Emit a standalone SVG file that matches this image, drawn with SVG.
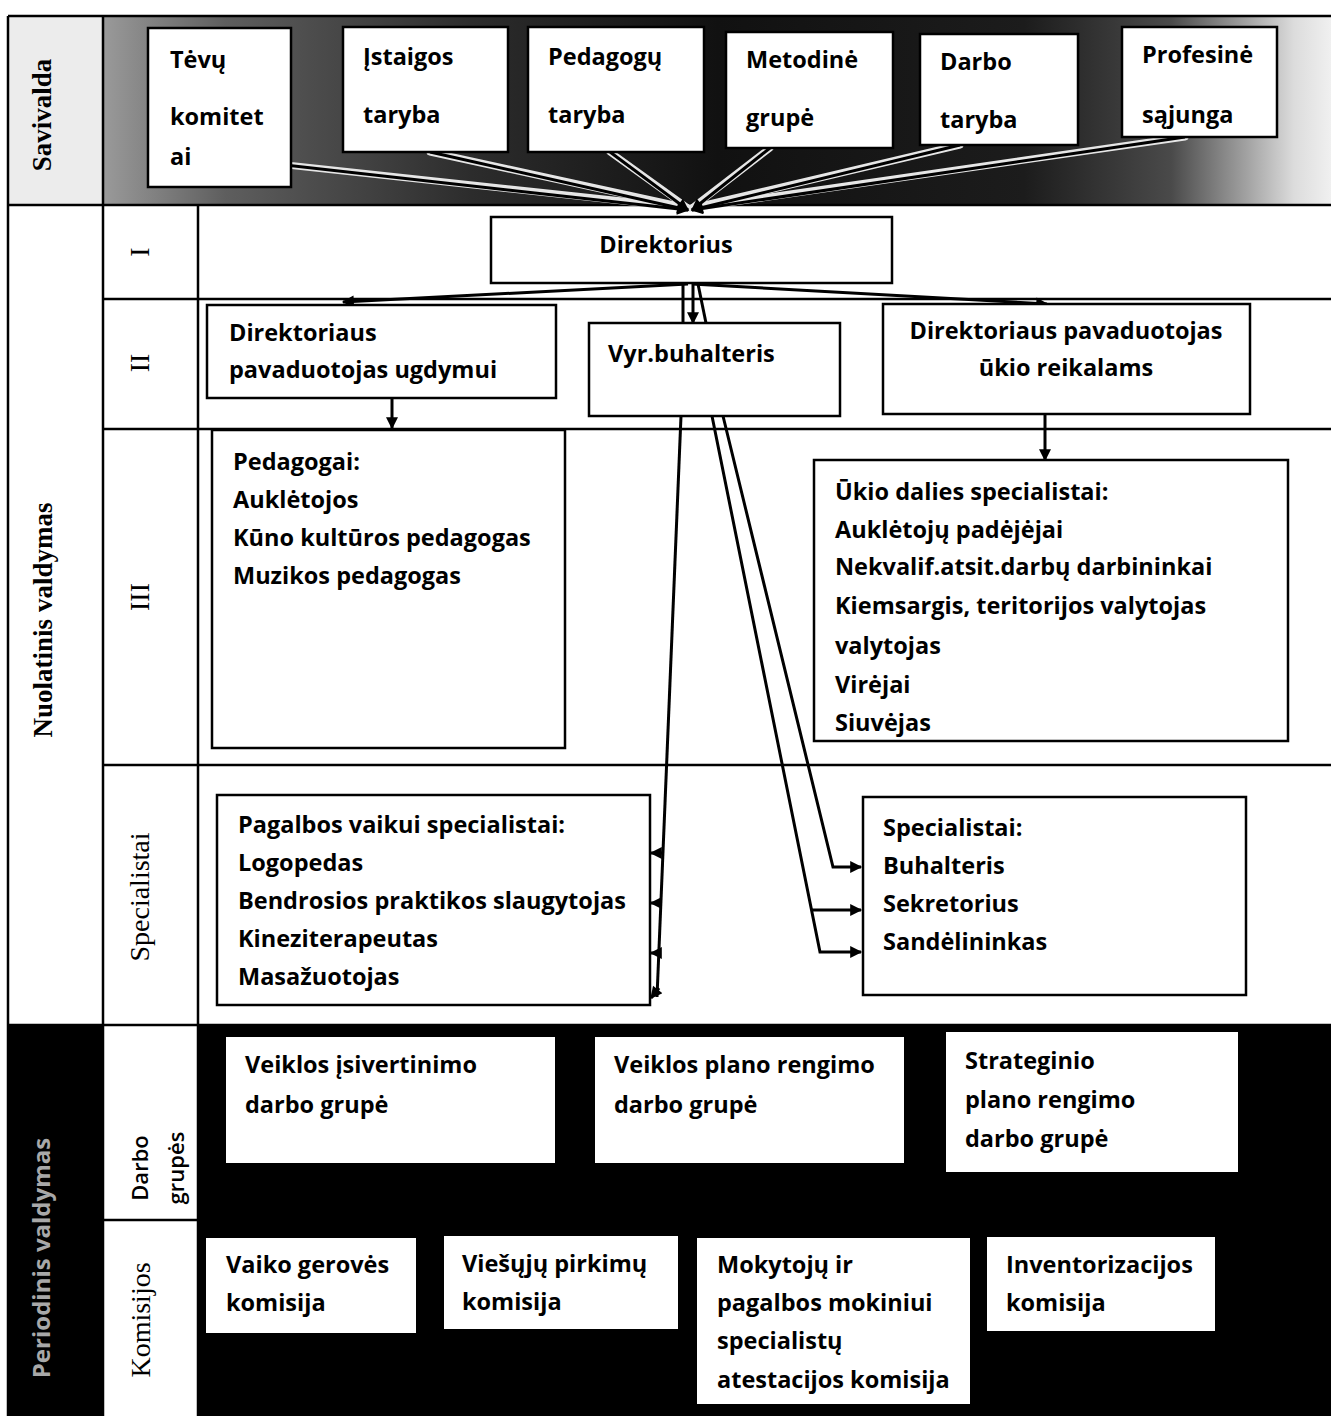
<svg xmlns="http://www.w3.org/2000/svg" width="1331" height="1416" viewBox="0 0 1331 1416">
<style>
.t{font-family:"Open Sans","Noto Sans",sans-serif;font-weight:700;font-size:23.5px;fill:#000}
.box{fill:#fff;stroke:#000;stroke-width:2.5}
.wbox{fill:#fff;stroke:none}
.g{stroke:#000;stroke-width:2.5;fill:none}
.lab{font-family:"Liberation Serif","Times New Roman",serif;font-size:28px;fill:#000}
.labb{font-family:"Liberation Serif","Times New Roman",serif;font-weight:bold;font-size:27px;fill:#000}
.c{stroke:#000;stroke-width:3;fill:none}
.halo{stroke:#e6e6e6;stroke-width:7;fill:none;stroke-linecap:round}
</style>
<defs>
<marker id="ah" viewBox="0 0 10 10" refX="9" refY="5" markerWidth="14" markerHeight="12" markerUnits="userSpaceOnUse" orient="auto"><path d="M0,0 L10,5 L0,10 z" fill="#000"/></marker>
<linearGradient id="band" x1="0" y1="0" x2="1" y2="0">
<stop offset="0" stop-color="#9a9a9a"/>
<stop offset="0.1" stop-color="#5e5e5e"/>
<stop offset="0.3" stop-color="#2c2c2c"/>
<stop offset="0.5" stop-color="#111"/>
<stop offset="0.75" stop-color="#1c1c1c"/>
<stop offset="0.87" stop-color="#4a4a4a"/>
<stop offset="0.93" stop-color="#a0a0a0"/>
<stop offset="0.97" stop-color="#dcdcdc"/>
<stop offset="1" stop-color="#f0f0f0"/>
</linearGradient>
</defs>
<rect width="1331" height="1416" fill="#fff"/>
<g id="table">
<rect x="8" y="16" width="95" height="189" fill="#ececec"/>
<rect x="103" y="16" width="1228" height="189" fill="url(#band)"/>
<rect x="8" y="1025" width="95" height="391" fill="#000"/>
<rect x="198" y="1025" width="1133" height="391" fill="#000"/>
<path class="g" d="M8,16 H1331 M8,16 V1416 M103,16 V1416 M198,205 V1416 M8,205 H1331 M103,299 H1331 M103,429 H1331 M103,765 H1331 M8,1025 H1331 M103,1220 H198"/>
<text class="labb" transform="translate(51,115) rotate(-90)" text-anchor="middle">Savivalda</text>
<text class="labb" transform="translate(52,620) rotate(-90)" text-anchor="middle">Nuolatinis valdymas</text>
<text class="lab" transform="translate(149,252) rotate(-90)" text-anchor="middle">I</text>
<text class="lab" transform="translate(149,363) rotate(-90)" text-anchor="middle">II</text>
<text class="lab" transform="translate(149,597) rotate(-90)" text-anchor="middle">III</text>
<text class="lab" transform="translate(149,897) rotate(-90)" text-anchor="middle">Specialistai</text>
<text class="t" transform="translate(148,1168) rotate(-90)" text-anchor="middle" style="font-weight:600;font-size:22px">Darbo</text>
<text class="t" transform="translate(184,1168) rotate(-90)" text-anchor="middle" style="font-weight:600;font-size:22px">grupės</text>
<text class="lab" transform="translate(150,1320) rotate(-90)" text-anchor="middle">Komisijos</text>
<text class="t" transform="translate(50,1258) rotate(-90)" text-anchor="middle" style="font-size:24px;font-weight:700;fill:#a8a8a8">Periodinis valdymas</text>
</g>
<g id="connectors">
<line class="halo" x1="222" y1="158" x2="688" y2="208"/>
<line class="halo" x1="430" y1="152" x2="688" y2="208"/>
<line class="halo" x1="610" y1="152" x2="688" y2="208"/>
<line class="halo" x1="770" y1="148" x2="692" y2="208"/>
<line class="halo" x1="960" y1="145" x2="692" y2="208"/>
<line class="halo" x1="1185" y1="137" x2="692" y2="208"/>
<line class="c" x1="222" y1="158" x2="688" y2="210" marker-end="url(#ah)"/>
<line class="c" x1="430" y1="152" x2="688" y2="210" marker-end="url(#ah)"/>
<line class="c" x1="610" y1="152" x2="688" y2="210" marker-end="url(#ah)"/>
<line class="c" x1="770" y1="148" x2="692" y2="210" marker-end="url(#ah)"/>
<line class="c" x1="960" y1="145" x2="692" y2="210" marker-end="url(#ah)"/>
<line class="c" x1="1185" y1="137" x2="692" y2="210" marker-end="url(#ah)"/>
<line class="c" x1="688" y1="284" x2="343" y2="302" marker-end="url(#ah)"/>
<line class="c" x1="692" y1="284" x2="1047" y2="304" marker-end="url(#ah)"/>
<line class="c" x1="683" y1="284" x2="683" y2="323"/>
<line class="c" x1="693" y1="284" x2="693" y2="323" marker-end="url(#ah)"/>
<line class="c" x1="698" y1="284" x2="706" y2="323"/>
<line class="c" x1="392" y1="398" x2="392" y2="428" marker-end="url(#ah)"/>
<line class="c" x1="1045" y1="414" x2="1045" y2="460" marker-end="url(#ah)"/>
<line class="c" x1="681" y1="416" x2="657" y2="997"/>
<line class="c" x1="664" y1="853" x2="651" y2="853" marker-end="url(#ah)"/>
<line class="c" x1="662" y1="903" x2="651" y2="903" marker-end="url(#ah)"/>
<line class="c" x1="660" y1="953" x2="651" y2="953" marker-end="url(#ah)"/>
<line class="c" x1="659" y1="988" x2="651" y2="998" marker-end="url(#ah)"/>
<path class="c" d="M723,416 L833,867 L861,867" marker-end="url(#ah)"/>
<path class="c" d="M712,416 L820,952 L861,952" marker-end="url(#ah)"/>
<line class="c" x1="812" y1="910" x2="861" y2="910" marker-end="url(#ah)"/>
</g>
<g id="n-tevu"><rect class="box" x="148" y="28" width="143" height="159"/><text class="t" x="170" y="68">Tėvų</text><text class="t" x="170" y="125">komitet</text><text class="t" x="170" y="165">ai</text></g>
<g id="n-istaigos"><rect class="box" x="343" y="27" width="165" height="125"/><text class="t" x="363" y="65">Įstaigos</text><text class="t" x="363" y="123">taryba</text></g>
<g id="n-pedagogu"><rect class="box" x="528" y="27" width="176" height="125"/><text class="t" x="548" y="65">Pedagogų</text><text class="t" x="548" y="123">taryba</text></g>
<g id="n-metodine"><rect class="box" x="726" y="32" width="167" height="116"/><text class="t" x="746" y="68">Metodinė</text><text class="t" x="746" y="126">grupė</text></g>
<g id="n-darbo"><rect class="box" x="920" y="34" width="158" height="111"/><text class="t" x="940" y="70">Darbo</text><text class="t" x="940" y="128">taryba</text></g>
<g id="n-profesine"><rect class="box" x="1122" y="27" width="155" height="110"/><text class="t" x="1142" y="63">Profesinė</text><text class="t" x="1142" y="123">sąjunga</text></g>
<g id="n-direktorius"><rect class="box" x="491" y="217" width="401" height="66"/><text class="t" x="666" y="253" text-anchor="middle">Direktorius</text></g>
<g id="n-pav-ugdymui"><rect class="box" x="207" y="305" width="349" height="93"/><text class="t" x="229" y="341">Direktoriaus</text><text class="t" x="229" y="378">pavaduotojas ugdymui</text></g>
<g id="n-vyr-buhalteris"><rect class="box" x="589" y="323" width="251" height="93"/><text class="t" x="608" y="362">Vyr.buhalteris</text></g>
<g id="n-pav-ukio"><rect class="box" x="883" y="304" width="367" height="110"/><text class="t" x="1066" y="339" text-anchor="middle">Direktoriaus pavaduotojas</text><text class="t" x="1066" y="376" text-anchor="middle">ūkio reikalams</text></g>
<g id="n-pedagogai"><rect class="box" x="212" y="430" width="353" height="318"/><text class="t" x="233" y="470">Pedagogai:</text><text class="t" x="233" y="508">Auklėtojos</text><text class="t" x="233" y="546">Kūno kultūros pedagogas</text><text class="t" x="233" y="584">Muzikos pedagogas</text></g>
<g id="n-ukio"><rect class="box" x="814" y="460" width="474" height="281"/><text class="t" x="835" y="500">Ūkio dalies specialistai:</text><text class="t" x="835" y="538">Auklėtojų padėjėjai</text><text class="t" x="835" y="575">Nekvalif.atsit.darbų darbininkai</text><text class="t" x="835" y="614">Kiemsargis, teritorijos valytojas</text><text class="t" x="835" y="654">valytojas</text><text class="t" x="835" y="693">Virėjai</text><text class="t" x="835" y="731">Siuvėjas</text></g>
<g id="n-pagalbos"><rect class="box" x="217" y="795" width="433" height="210"/><text class="t" x="238" y="833">Pagalbos vaikui specialistai:</text><text class="t" x="238" y="871">Logopedas</text><text class="t" x="238" y="909">Bendrosios praktikos slaugytojas</text><text class="t" x="238" y="947">Kineziterapeutas</text><text class="t" x="238" y="985">Masažuotojas</text></g>
<g id="n-specialistai"><rect class="box" x="863" y="797" width="383" height="198"/><text class="t" x="883" y="836">Specialistai:</text><text class="t" x="883" y="874">Buhalteris</text><text class="t" x="883" y="912">Sekretorius</text><text class="t" x="883" y="950">Sandėlininkas</text></g>
<g id="n-veiklos-isivertinimo"><rect class="wbox" x="226" y="1037" width="329" height="126"/><text class="t" x="245" y="1073">Veiklos įsivertinimo</text><text class="t" x="245" y="1113">darbo grupė</text></g>
<g id="n-veiklos-plano"><rect class="wbox" x="595" y="1037" width="309" height="126"/><text class="t" x="614" y="1073">Veiklos plano rengimo</text><text class="t" x="614" y="1113">darbo grupė</text></g>
<g id="n-strateginio"><rect class="wbox" x="946" y="1032" width="292" height="140"/><text class="t" x="965" y="1069">Strateginio</text><text class="t" x="965" y="1108">plano rengimo</text><text class="t" x="965" y="1147">darbo grupė</text></g>
<g id="n-vaiko"><rect class="wbox" x="206" y="1238" width="210" height="95"/><text class="t" x="226" y="1273">Vaiko gerovės</text><text class="t" x="226" y="1311">komisija</text></g>
<g id="n-viesuju"><rect class="wbox" x="444" y="1236" width="234" height="93"/><text class="t" x="462" y="1272">Viešųjų pirkimų</text><text class="t" x="462" y="1310">komisija</text></g>
<g id="n-atestacijos"><rect class="wbox" x="697" y="1238" width="273" height="166"/><text class="t" x="717" y="1273">Mokytojų ir</text><text class="t" x="717" y="1311">pagalbos mokiniui</text><text class="t" x="717" y="1349">specialistų</text><text class="t" x="717" y="1388">atestacijos komisija</text></g>
<g id="n-inventorizacijos"><rect class="wbox" x="987" y="1237" width="228" height="94"/><text class="t" x="1006" y="1273">Inventorizacijos</text><text class="t" x="1006" y="1311">komisija</text></g>
</svg>
